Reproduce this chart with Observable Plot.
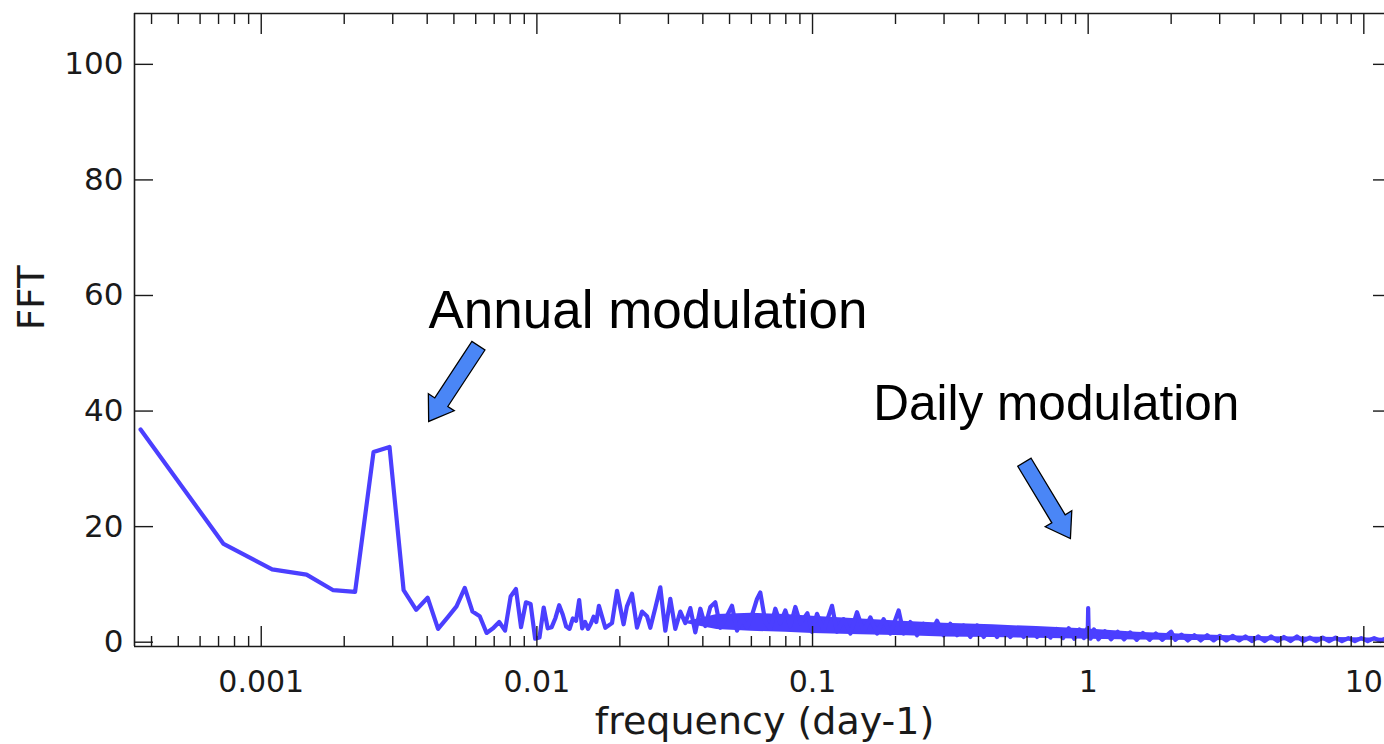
<!DOCTYPE html>
<html>
<head>
<meta charset="utf-8">
<script src="https://cdn.jsdelivr.net/npm/d3@7"></script>
<script src="https://cdn.jsdelivr.net/npm/@observablehq/plot@0.6"></script>
<style>
  html, body { margin: 0; padding: 0; background: white; overflow: hidden; }
  svg { display: block; }
</style>
</head>
<body>
<div id="chart"></div>
<script>
// ---- data ----
const lowFreq = [0.000365, 0.00073, 0.001095, 0.00146, 0.001825, 0.00219, 0.002555, 0.00292, 0.003285, 0.00365,
  0.004015, 0.00438, 0.004745, 0.00511, 0.005475, 0.00584, 0.006205, 0.00657, 0.006935, 0.0073,
  0.007665, 0.00803, 0.008395, 0.00876, 0.009125, 0.00949, 0.009855, 0.01022, 0.010585, 0.01095,
  0.011315, 0.01168, 0.012045, 0.01241, 0.012775, 0.01314, 0.013505, 0.01387, 0.014235, 0.0146,
  0.014965, 0.01533, 0.015695, 0.01606, 0.016425, 0.01679];
const lowAmp = [36.8, 17.0, 12.6, 11.7, 9.0, 8.7, 32.9, 33.8, 9.0, 5.6,
  7.7, 2.3, 4.3, 6.2, 9.4, 5.3, 4.5, 1.6, 2.4, 3.5,
  2.0, 7.9, 9.2, 2.6, 6.9, 6.6, 0.6, 0.8, 6.0, 2.4,
  2.6, 4.2, 6.4, 4.8, 2.7, 2.3, 4.1, 3.7, 7.3, 2.4,
  3.5, 2.3, 3.2, 4.4, 3.5, 6.3];

const midFreq = [0.01771, 0.01873, 0.01953, 0.02007, 0.02063, 0.02122, 0.02213, 0.02308, 0.02406, 0.02509,
  0.02579, 0.02689, 0.02804, 0.02924, 0.03048, 0.03178, 0.03314, 0.03455, 0.03603, 0.03756,
  0.03917, 0.04083, 0.04258, 0.0444, 0.04629, 0.04826, 0.05104, 0.05321, 0.05548, 0.05785,
  0.06031, 0.06289, 0.06465, 0.06741, 0.07029, 0.07328, 0.07641, 0.07967, 0.08307, 0.08661,
  0.09031, 0.0958, 0.09958, 0.1038, 0.1097, 0.1177, 0.1227, 0.1297, 0.1372,
  0.145, 0.1532, 0.1621, 0.1714, 0.1811, 0.1916, 0.2053, 0.2141, 0.2264, 0.2394,
  0.253, 0.2676, 0.283, 0.299, 0.3162, 0.3344, 0.3534, 0.3737, 0.3953, 0.4177,
  0.4417, 0.4671, 0.4937, 0.5221, 0.5521, 0.5834, 0.617, 0.6524, 0.6896];
const midAmp = [2.5, 3.3, 8.9, 6.0, 3.1, 6.2, 8.4, 2.5, 5.3, 4.5,
  2.5, 5.9, 9.5, 2.0, 7.5, 2.3, 5.3, 3.3, 5.9, 1.7,
  5.8, 2.8, 6.1, 6.9, 2.5, 4.0, 6.3, 2.0, 4.2, 2.5,
  4.7, 7.5, 8.6, 3.5, 2.3, 5.8, 3.3, 5.5, 2.8, 6.1,
  3.3, 5.0, 1.8, 4.9, 2.0, 6.3, 1.8, 4.0, 1.5,
  5.2, 1.8, 4.3, 1.5, 4.0, 1.5, 5.5, 1.5, 3.5, 1.2,
  3.2, 1.5, 3.7, 1.2, 3.2, 1.2, 2.9, 0.9, 2.9, 0.9,
  2.6, 0.9, 2.6, 0.9, 2.3, 0.9, 2.3, 0.9, 2.1];

const highFreq = [0.73, 0.77, 0.81, 0.85, 0.89, 0.93, 0.965, 0.99, 0.996, 1.0,
  1.004, 1.02, 1.05, 1.09, 1.15, 1.21, 1.28, 1.35, 1.42, 1.5,
  1.58, 1.67, 1.76, 1.86, 1.95, 2.0, 2.07, 2.18, 2.3, 2.43,
  2.56, 2.7, 2.85, 3.0, 3.17, 3.34, 3.53, 3.72, 3.93, 4.14,
  4.37, 4.61, 4.87, 5.13, 5.42, 5.72, 6.03, 6.37, 6.72, 7.09,
  7.48, 7.9, 8.33, 8.79, 9.28, 9.79, 10.33, 10.9, 11.5, 11.9];
const highAmp = [0.8, 2.3, 0.7, 2.4, 0.6, 2.2, 0.7, 2.3, 1.5, 5.9,
  1.8, 0.6, 2.2, 0.5, 1.9, 0.5, 1.8, 0.5, 1.7, 0.4,
  1.6, 0.4, 1.5, 0.4, 1.4, 1.8, 0.4, 1.3, 0.3, 1.2,
  0.3, 1.2, 0.3, 1.1, 0.3, 1.1, 0.3, 1.0, 0.2, 1.0,
  0.2, 1.0, 0.2, 0.9, 0.2, 1.0, 0.2, 0.8, 0.2, 0.8,
  0.2, 0.8, 0.2, 0.7, 0.2, 0.7, 0.2, 0.7, 0.2, 0.6];

// dense noise band envelope
const bandFreq = [0.035, 0.045, 0.06, 0.08, 0.1, 0.15, 0.22, 0.3, 0.45, 0.65, 1.0, 1.5, 2.5, 4, 7, 11.9];
const bandLo   = [3.2, 2.2, 1.9, 1.7, 1.5, 1.3, 1.1, 0.9, 0.8, 0.7, 0.5, 0.4, 0.3, 0.25, 0.2, 0.2];
const bandHi   = [3.6, 4.8, 5.0, 4.8, 4.5, 4.0, 3.6, 3.3, 3.0, 2.7, 2.3, 1.7, 1.3, 1.0, 0.85, 0.7];

const xMajorTicks = [0.001, 0.01, 0.1, 1, 10];
const xMajorLabels = ["0.001", "0.01", "0.1", "1", "10"];
const xMinorTicks = [0.0004, 0.0005, 0.0006, 0.0007, 0.0008, 0.0009,
  0.002, 0.003, 0.004, 0.005, 0.006, 0.007, 0.008, 0.009,
  0.02, 0.03, 0.04, 0.05, 0.06, 0.07, 0.08, 0.09,
  0.2, 0.3, 0.4, 0.5, 0.6, 0.7, 0.8, 0.9,
  2, 3, 4, 5, 6, 7, 8, 9];
const yTicks = [0, 20, 40, 60, 80, 100];

const xDomain = [3.469e-4, 11.886];
const yDomain = [-0.745, 108.8];

const annText = ["Annual modulation", "Daily modulation"];
const annFreq = [0.00404, 0.1662];
const annAmp = [54.3, 38.4];
const annSize = [53, 49.5];

const arrowTipFreq = [0.00405, 0.862];
const arrowTipAmp = [38.2, 17.95];

// ---- build tables ----
const spectrum = [];
lowFreq.forEach((f, i) => spectrum.push({f, a: lowAmp[i]}));
midFreq.forEach((f, i) => spectrum.push({f, a: midAmp[i]}));
highFreq.forEach((f, i) => spectrum.push({f, a: highAmp[i]}));
const band = bandFreq.map((f, i) => ({f, lo: bandLo[i], hi: bandHi[i]}));
const annotations = annText.map((t, i) => ({t, f: annFreq[i], a: annAmp[i], s: annSize[i]}));

const lineColor = "#4b3fff";
const arrowFill = "#4a86f6";
const axisColor = "#1a1a1a";

const blockArrow = {
  draw(context, l) {
    const w = 7.8, h = 15.5, hl = 23;
    context.moveTo(-w, 0);
    context.lineTo(-w, -(l - hl));
    context.lineTo(-h, -(l - hl));
    context.lineTo(0, -l);
    context.lineTo(h, -(l - hl));
    context.lineTo(w, -(l - hl));
    context.lineTo(w, 0);
    context.closePath();
  }
};

const majorLabel = (d) => {
  const i = xMajorTicks.findIndex((t) => Math.abs(t - d) / t < 1e-6);
  return i >= 0 ? xMajorLabels[i] : "";
};

const chart = Plot.plot({
  width: 1384,
  height: 744,
  marginLeft: 134,
  marginRight: 0,
  marginTop: 13,
  marginBottom: 98,
  style: {fontFamily: "'DejaVu Sans', sans-serif", fontSize: "30px", color: axisColor, background: "white", overflow: "hidden"},
  x: {type: "log", domain: xDomain},
  y: {domain: yDomain},
  marks: [
    Plot.areaY(band, {x: "f", y1: "lo", y2: "hi", fill: lineColor}),
    Plot.lineY(spectrum, {x: "f", y: "a", stroke: lineColor, strokeWidth: 4.2}),
    Plot.ruleX([xDomain[0]], {stroke: axisColor, strokeWidth: 1.6}),
    Plot.ruleY([yDomain[1]], {stroke: axisColor, strokeWidth: 1.6}),
    Plot.ruleY([yDomain[0]], {stroke: axisColor, strokeWidth: 1.6}),
    Plot.axisY({anchor: "left", ticks: yTicks, tickSize: -19, tickPadding: 30, label: null, fontSize: 31, strokeWidth: 1.4}),
    Plot.axisY({anchor: "right", ticks: yTicks, tickSize: -12, tickFormat: () => "", label: null, strokeWidth: 1.4}),
    Plot.axisX({anchor: "bottom", ticks: xMajorTicks, tickSize: -20, tickPadding: 44, tickFormat: majorLabel, label: null, fontSize: 30, strokeWidth: 1.4}),
    Plot.axisX({anchor: "bottom", ticks: xMinorTicks, tickSize: -10, tickFormat: () => "", label: null, strokeWidth: 1.4}),
    Plot.axisX({anchor: "top", ticks: xMajorTicks, tickSize: -20, tickFormat: () => "", label: null, strokeWidth: 1.4}),
    Plot.axisX({anchor: "top", ticks: xMinorTicks, tickSize: -10, tickFormat: () => "", label: null, strokeWidth: 1.4}),
    Plot.text(["FFT"], {frameAnchor: "left", dx: -102, rotate: -90, fontSize: 37, fill: axisColor}),
    Plot.text(["frequency (day-1)"], {frameAnchor: "bottom", dy: 87, dx: 5, lineAnchor: "bottom", fontSize: 38, fill: axisColor}),
    Plot.vector([0], {x: () => arrowTipFreq[0], y: () => arrowTipAmp[0], length: 90.6, rotate: 213.3, anchor: "end", shape: blockArrow, fill: arrowFill, stroke: "black", strokeWidth: 1.3, strokeLinejoin: "miter"}),
    Plot.vector([0], {x: () => arrowTipFreq[1], y: () => arrowTipAmp[1], length: 89, rotate: 148.9, anchor: "end", shape: blockArrow, fill: arrowFill, stroke: "black", strokeWidth: 1.3, strokeLinejoin: "miter"}),
    Plot.text([annotations[0]], {x: "f", y: "a", text: "t", textAnchor: "start", lineAnchor: "bottom", fontSize: annSize[0], fontFamily: "'Liberation Sans', Arial, sans-serif", fill: "black"}),
    Plot.text([annotations[1]], {x: "f", y: "a", text: "t", textAnchor: "start", lineAnchor: "bottom", fontSize: annSize[1], fontFamily: "'Liberation Sans', Arial, sans-serif", fill: "black"})
  ]
});
document.getElementById("chart").appendChild(chart);
</script>
</body>
</html>
